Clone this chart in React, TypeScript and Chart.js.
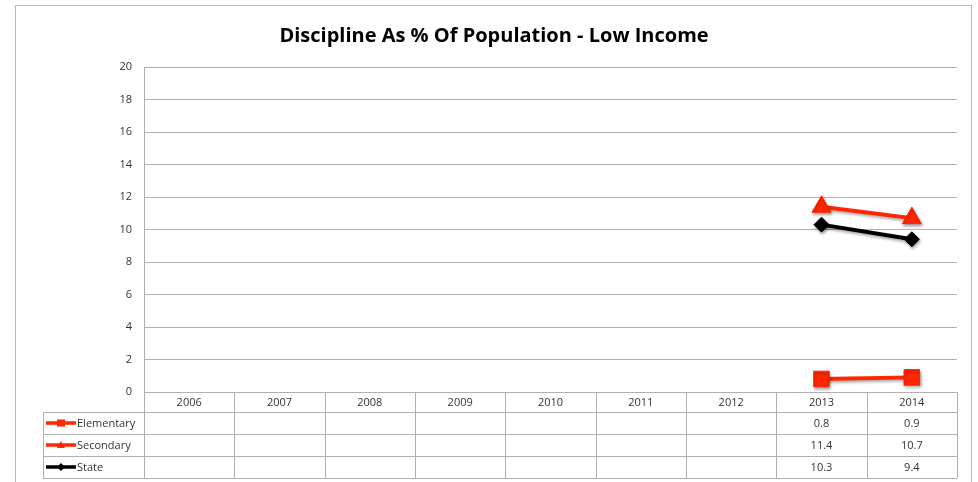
import React, { useEffect, useRef } from "react";
import { Chart, registerables } from "chart.js";

Chart.register(...registerables);

const TITLE = "Discipline As % Of Population - Low Income";
const categories = ["2006", "2007", "2008", "2009", "2010", "2011", "2012", "2013", "2014"];
const elementary: (number | null)[] = [null, null, null, null, null, null, null, 0.8, 0.9];
const secondary: (number | null)[] = [null, null, null, null, null, null, null, 11.4, 10.7];
const stateVals: (number | null)[] = [null, null, null, null, null, null, null, 10.3, 9.4];
const yTicks = [0, 2, 4, 6, 8, 10, 12, 14, 16, 18, 20];

const RED = "rgb(255,38,0)";
const BLACK = "#000000";
const GRID = "#b0b0b0";
const FONT = "'Open Sans', 'Noto Sans', sans-serif";

const seriesDefs = [
  { label: "Elementary", data: elementary, color: RED, style: "rect", radius: 11 },
  { label: "Secondary", data: secondary, color: RED, style: "triangle", radius: 11 },
  { label: "State", data: stateVals, color: BLACK, style: "rectRot", radius: 7.5 },
];

const framePlugin = {
  id: "frame",
  beforeDraw(chart: any) {
    const ctx = chart.ctx;
    ctx.save();
    ctx.fillStyle = "#ffffff";
    ctx.fillRect(0, 0, chart.width, chart.height);
    ctx.strokeStyle = "#b8b8b8";
    ctx.lineWidth = 1;
    ctx.strokeRect(15.5, 5.5, 956, 490);
    ctx.fillStyle = "#000";
    ctx.font = `bold 20px ${FONT}`;
    ctx.textAlign = "center";
    ctx.textBaseline = "middle";
    ctx.fillText(TITLE, 494, 36);
    ctx.restore();
  },
  beforeDatasetsDraw(chart: any) {
    const ctx = chart.ctx;
    ctx.save();
    ctx.shadowColor = "rgba(0,0,0,0.35)";
    ctx.shadowBlur = 3;
    ctx.shadowOffsetX = 1;
    ctx.shadowOffsetY = 2;
  },
  afterDatasetsDraw(chart: any) {
    chart.ctx.restore();
  },
  afterDraw(chart: any) {
    const ctx = chart.ctx;
    const xs = chart.scales.x;
    const area = chart.chartArea;
    const top = area.bottom;
    const bottom = 478;
    const headerH = 20;
    const rowH = (bottom - top - headerH) / 3;
    const legendLeft = 43;
    const left = area.left;
    const right = area.right;
    const n = categories.length;
    const band = (right - left) / n;
    ctx.save();
    ctx.strokeStyle = GRID;
    ctx.lineWidth = 1;
    ctx.beginPath();
    const r1 = top + headerH;
    ctx.moveTo(left, Math.round(top) + 0.5);
    ctx.lineTo(right, Math.round(top) + 0.5);
    for (let i = 0; i <= 3; i++) {
      const y = Math.round(r1 + i * rowH) + 0.5;
      ctx.moveTo(legendLeft, y);
      ctx.lineTo(right, y);
    }
    for (let i = 0; i <= n; i++) {
      const x = Math.round(left + i * band) + 0.5;
      ctx.moveTo(x, top);
      ctx.lineTo(x, bottom);
    }
    ctx.moveTo(legendLeft + 0.5, r1);
    ctx.lineTo(legendLeft + 0.5, bottom);
    ctx.stroke();

    ctx.fillStyle = "#333";
    ctx.font = `11px ${FONT}`;
    ctx.textAlign = "center";
    ctx.textBaseline = "middle";
    categories.forEach((c, i) => {
      const cx = xs.getPixelForValue(i);
      ctx.fillText(c, cx, top + headerH / 2 + 1);
    });
    seriesDefs.forEach((s, r) => {
      const cy = r1 + r * rowH + rowH / 2 + 1;
      s.data.forEach((v, i) => {
        if (v === null) return;
        ctx.fillText(v.toFixed(1), xs.getPixelForValue(i), cy);
      });
      ctx.strokeStyle = s.color;
      ctx.fillStyle = s.color;
      ctx.lineWidth = 3.5;
      ctx.beginPath();
      ctx.moveTo(46, cy - 1);
      ctx.lineTo(76, cy - 1);
      ctx.stroke();
      const mx = 61;
      const my = cy - 1;
      ctx.beginPath();
      if (s.style === "rect") {
        ctx.rect(mx - 4, my - 3.5, 8, 7);
      } else if (s.style === "triangle") {
        ctx.moveTo(mx, my - 4);
        ctx.lineTo(mx + 4, my + 3);
        ctx.lineTo(mx - 4, my + 3);
        ctx.closePath();
      } else {
        ctx.moveTo(mx, my - 4);
        ctx.lineTo(mx + 4, my);
        ctx.lineTo(mx, my + 4);
        ctx.lineTo(mx - 4, my);
        ctx.closePath();
      }
      ctx.fill();
      ctx.fillStyle = "#333";
      ctx.textAlign = "left";
      ctx.fillText(s.label, 77, cy);
      ctx.textAlign = "center";
    });
    ctx.restore();
  },
};

export default function App() {
  const ref = useRef<HTMLCanvasElement | null>(null);
  useEffect(() => {
    if (!ref.current) return;
    const chart = new Chart(ref.current, {
      type: "line",
      data: {
        labels: categories,
        datasets: seriesDefs.map((s) => ({
          label: s.label,
          data: s.data,
          borderColor: s.color,
          backgroundColor: s.color,
          pointBackgroundColor: s.color,
          pointBorderColor: s.color,
          pointStyle: s.style as any,
          pointRadius: s.radius,
          pointBorderWidth: 1,
          borderWidth: 4,
          spanGaps: false,
          tension: 0,
        })),
      },
      options: {
        animation: false,
        responsive: false,
        devicePixelRatio: 1,
        layout: { padding: { left: 0, right: 21, top: 67, bottom: 90 } },
        plugins: {
          legend: { display: false },
          title: { display: false },
          tooltip: { enabled: false },
        },
        scales: {
          x: {
            type: "category",
            display: false,
            offset: true,
          },
          y: {
            min: 0,
            max: 20,
            afterFit: (scale: any) => {
              scale.width = 144;
            },
            afterBuildTicks: (scale: any) => {
              scale.ticks = yTicks.map((v) => ({ value: v }));
            },
            border: { display: true, color: GRID, width: 1 },
            grid: { color: GRID, lineWidth: 1, drawTicks: false },
            ticks: {
              padding: 12,
              color: "#333",
              font: { family: FONT, size: 11 },
            },
          },
        },
      },
      plugins: [framePlugin],
    });
    return () => chart.destroy();
  }, []);
  return (
    <div style={{ position: "fixed", left: 0, top: 0, width: 978, height: 482 }}>
      <canvas ref={ref} width={978} height={482} style={{ width: 978, height: 482, display: "block" }} />
    </div>
  );
}
